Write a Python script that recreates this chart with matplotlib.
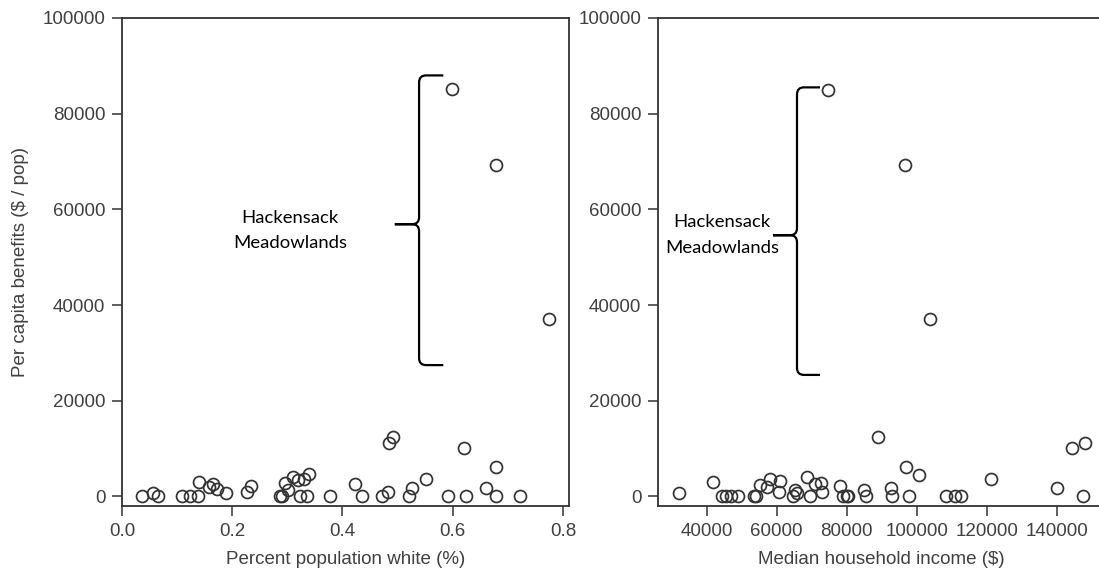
import matplotlib
matplotlib.use("Agg")
import matplotlib.pyplot as plt
from matplotlib.path import Path
from matplotlib.patches import PathPatch

# ---------------- data ----------------
white_pct = [0.037, 0.056, 0.065, 0.109, 0.124, 0.137, 0.140, 0.158, 0.166, 0.173,
             0.188, 0.226, 0.234, 0.287, 0.291, 0.296, 0.302, 0.310, 0.319, 0.323,
             0.330, 0.336, 0.340, 0.377, 0.423, 0.436, 0.471, 0.483, 0.485, 0.492,
             0.521, 0.527, 0.552, 0.592, 0.621, 0.624, 0.661, 0.679, 0.679, 0.722,
             0.599, 0.679, 0.774]
benefit_white = [100, 800, 0, 0, 0, 0, 3100, 2050, 2600, 1550,
                 650, 1000, 2250, 0, 0, 2750, 1350, 4150, 3450, 0,
                 3650, 0, 4650, 0, 2600, 0, 0, 870, 11230, 12360,
                 0, 1700, 3650, 0, 10200, 0, 1700, 6100, 0, 0,
                 85100, 69350, 37100]

income = [32090, 41710, 44290, 45430, 46940, 49030, 53600, 54170, 55230, 57310,
          58090, 60940, 60740, 64740, 65230, 65710, 68570, 69510, 70940, 72570,
          73030, 78090, 78860, 80000, 80460, 85030, 85510, 89030, 92660, 93030,
          96860, 97890, 100660, 108370, 110940, 112570, 121140, 140170, 144460, 148090,
          147600, 74570, 96660, 103800]
benefit_income = [800, 3100, 0, 0, 0, 0, 0, 0, 2400, 2050,
                  3600, 3300, 1000, 0, 1350, 650, 4150, 0, 2550, 2900,
                  870, 2200, 0, 0, 0, 1350, 0, 12360, 1700, 0,
                  6100, 0, 4400, 0, 0, 0, 3650, 1850, 10200, 11230,
                  0, 85000, 69350, 37100]

xlabels = ["Percent population white (%)", "Median household income ($)"]
ylabel = "Per capita benefits ($ / pop)"
annot_text = "Hackensack\nMeadowlands"

# ---------------- style ----------------
W, H, DPI = 1099, 569, 100
fig = plt.figure(figsize=(W / DPI, H / DPI), dpi=DPI)
plt.rcParams['font.family'] = ['Liberation Sans', 'DejaVu Sans']

grey = "#333333"
tick_col = "#404040"
fs = 13.5

def px_box(l, t, r, b):
    return [l / W, (H - b) / H, (r - l) / W, (b - t) / H]

ax1 = fig.add_axes(px_box(122, 18, 569, 506))
ax2 = fig.add_axes(px_box(658, 18, 1105, 506))

def style(ax):
    for s in ax.spines.values():
        s.set_color(grey)
        s.set_linewidth(1.3)
    ax.tick_params(axis='both', direction='out', length=7, width=1.1,
                   color=grey, labelcolor=tick_col, labelsize=fs, pad=5,
                   top=False, right=False)
    ax.set_ylim(-2000, 100000)
    ax.set_yticks([0, 20000, 40000, 60000, 80000, 100000])

mk = dict(marker='o', linestyle='none', markersize=8.6, markerfacecolor='none',
          markeredgecolor=grey, markeredgewidth=1.25)

ax1.plot(white_pct, benefit_white, **mk)
ax2.plot(income, benefit_income, **mk)

style(ax1)
style(ax2)
ax1.set_xlim(0, 0.811)
ax1.set_xticks([0.0, 0.2, 0.4, 0.6, 0.8])
ax1.set_xticklabels(["0.0", "0.2", "0.4", "0.6", "0.8"])
ax2.set_xlim(26086, 153800)
ax2.set_xticks([40000, 60000, 80000, 100000, 120000, 140000])

ax1.set_xlabel(xlabels[0], fontsize=fs, color=tick_col, labelpad=8)
ax2.set_xlabel(xlabels[1], fontsize=fs, color=tick_col, labelpad=8)
ax1.set_ylabel(ylabel, fontsize=fs, color=tick_col, labelpad=10)


def brace(ax, x_line, x_tip, x_mid, y_top, y_mid, y_bot, r_px=7):
    x0, x1 = ax.get_xlim()
    y0, y1 = ax.get_ylim()
    bb = ax.get_position()
    rx = r_px * (x1 - x0) / (bb.width * W)
    ry = r_px * (y1 - y0) / (bb.height * H)
    verts = [
        (x_tip, y_top), (x_line + rx, y_top),
        (x_line, y_top), (x_line, y_top - ry),
        (x_line, y_mid + ry),
        (x_line, y_mid), (x_line - rx, y_mid),
        (x_mid, y_mid),
        (x_line - rx, y_mid),
        (x_line, y_mid), (x_line, y_mid - ry),
        (x_line, y_bot + ry),
        (x_line, y_bot), (x_line + rx, y_bot),
        (x_tip, y_bot),
    ]
    codes = [Path.MOVETO, Path.LINETO,
             Path.CURVE3, Path.CURVE3,
             Path.LINETO,
             Path.CURVE3, Path.CURVE3,
             Path.LINETO,
             Path.LINETO,
             Path.CURVE3, Path.CURVE3,
             Path.LINETO,
             Path.CURVE3, Path.CURVE3,
             Path.LINETO]
    ax.add_patch(PathPatch(Path(verts, codes), facecolor='none',
                           edgecolor='black', linewidth=1.6, clip_on=False))

brace(ax1, 0.539, 0.583, 0.495, 88000, 56900, 27450)
brace(ax2, 65800, 72370, 58940, 85500, 54600, 25400)

afont = dict(family=['Lato', 'DejaVu Sans'], fontsize=13.3, color='black',
             ha='center', va='center', linespacing=1.75)
ax1.text(0.305, 55600, annot_text, **afont)
ax2.text(44370, 54700, annot_text, **afont)

fig.savefig("out.png", dpi=DPI)
